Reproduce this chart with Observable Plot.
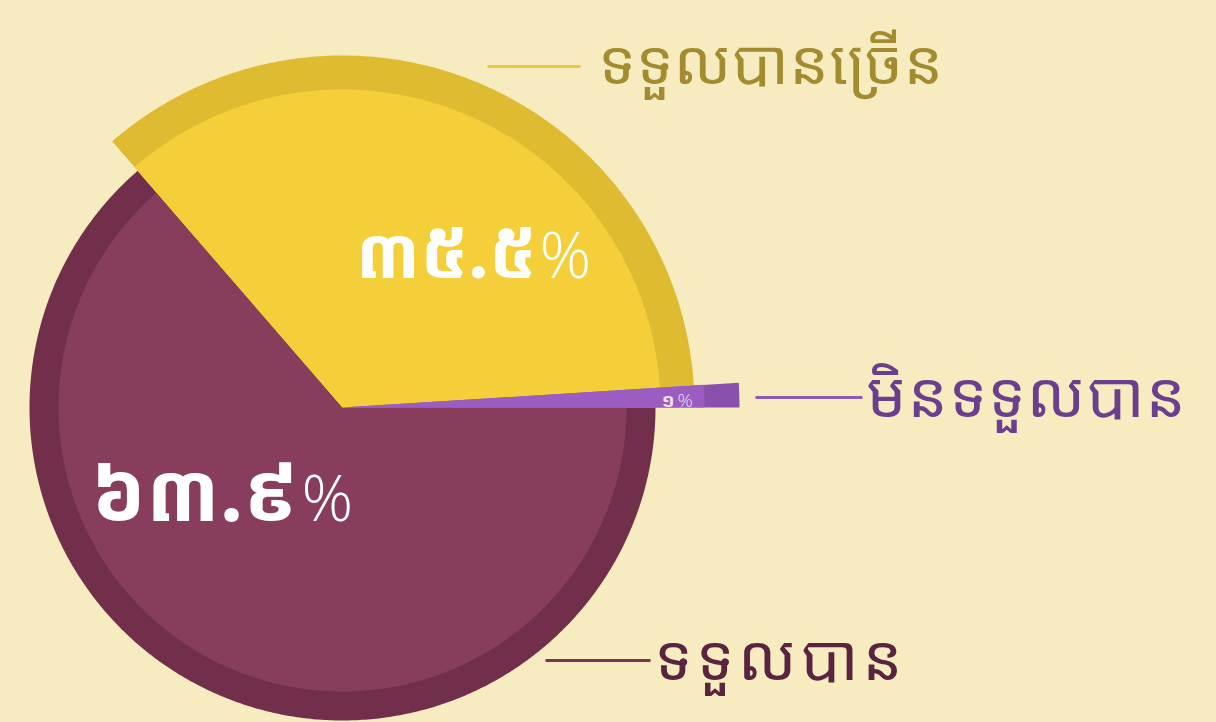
<!DOCTYPE html>
<html>
<head>
<meta charset="utf-8">
<script src="https://cdn.jsdelivr.net/npm/d3@7"></script>
<script src="https://cdn.jsdelivr.net/npm/@observablehq/plot@0.6"></script>
<style>
  html, body { margin: 0; padding: 0; background: #f7ecbf; }
  #chart svg { display: block; }
</style>
</head>
<body>
<div id="chart"></div>
<script>
// ---- data ----
const categories = ["មិនទទួលបាន", "ទទួលបានច្រើន", "ទទួលបាន"];
const values = [1, 35.5, 63.9];
const bandColors = ["#8a50ae", "#dfbb31", "#722f4b"];
const innerColors = ["#9b5dc2", "#f4cf3a", "#893d5c"];
const labelColors = ["#6a3f8e", "#a38c2f", "#5a2441"];
const lineColors = ["#8a5cb2", "#ecc93f", "#7a3551"];

// ---- helpers ----
const khmerDigits = "០១២៣៤៥៦៧៨៩";
const toKhmer = v => String(v).replace(/[0-9]/g, d => khmerDigits[+d]);

const W = 1216, H = 722;
const cx = 342, cy = 407;
const outerR = [397, 352, 313];
const innerR = [362, 318, 284];

const total = d3.sum(values);
let acc = 0;
const slices = values.map((v, i) => {
  const a0 = acc / total * 360;
  acc += v;
  const a1 = acc / total * 360;
  return {i, a0, a1};
});

function wedge(a0, a1, r) {
  const pts = [[cx, cy]];
  const n = Math.max(2, Math.ceil((a1 - a0) / 0.5));
  for (let k = 0; k <= n; k++) {
    const a = (a0 + (a1 - a0) * k / n) * Math.PI / 180;
    pts.push([cx + r * Math.cos(a), cy - r * Math.sin(a)]);
  }
  pts.push([cx, cy]);
  return pts;
}

const marks = [];
// draw larger slices first so the small one is on top
[2, 1, 0].forEach(i => {
  const s = slices[i];
  marks.push(Plot.line(wedge(s.a0, s.a1, outerR[i]), {x: d => d[0], y: d => d[1], fill: bandColors[i], stroke: null, curve: "linear"}));
  marks.push(Plot.line(wedge(s.a0, s.a1, innerR[i]), {x: d => d[0], y: d => d[1], fill: innerColors[i], stroke: null, curve: "linear"}));
});

// leader lines and category labels
const leaders = [
  {x1: 755, x2: 862, y: 397, tx: 866, ty: 416, size: 63, ls: 1.2},
  {x1: 487, x2: 580, y: 66, tx: 598, ty: 83, size: 62, ls: 0.5},
  {x1: 545, x2: 650, y: 660, tx: 654, ty: 679, size: 63, ls: 4}
];
const labelFont = "'Noto Sans Khmer','Noto Serif Khmer','Khmer OS','Khmer OS Battambang',sans-serif";
leaders.forEach((l, i) => {
  marks.push(Plot.link([l], {x1: "x1", x2: "x2", y1: "y", y2: "y", stroke: lineColors[i], strokeWidth: 3}));
  marks.push(Plot.text([categories[i]], {x: l.tx, y: l.ty, text: d => d, textAnchor: "start", lineAnchor: "bottom",
    fill: labelColors[i], fontSize: l.size, fontFamily: labelFont}));
});

// value labels
const valuePos = [
  {x: 674, y: 406, size: 19, pctSize: 19, fill: "#efe0f5"},
  {x: 536, y: 277, size: 72, pctSize: 64, fill: "#ffffff"},
  {x: 298, y: 520, size: 82, pctSize: 64, fill: "#ffffff"}
];
valuePos.forEach((p, i) => {
  const num = toKhmer(values[i]);
  marks.push(Plot.text([num], {x: p.x, y: p.y, text: d => d, textAnchor: "end", lineAnchor: "bottom",
    fill: p.fill, fontSize: p.size, fontWeight: "bold", fontFamily: "'Noto Sans Khmer','Khmer OS',sans-serif"}));
  marks.push(Plot.text(["%"], {x: p.x + 3, y: p.y, text: d => d, textAnchor: "start", lineAnchor: "bottom",
    fill: p.fill, fontSize: p.pctSize, fontWeight: 300, fontFamily: "'Open Sans','Noto Sans',sans-serif"}));
});

const chart = Plot.plot({
  width: W,
  height: H,
  margin: 0,
  x: {domain: [0, W], range: [0, W], axis: null},
  y: {domain: [0, H], range: [0, H], axis: null},
  style: {background: "#f7ecbf"},
  marks
});
// letter spacing for category labels
chart.querySelectorAll("text").forEach(t => {
  const k = categories.indexOf(t.textContent);
  if (k >= 0) t.setAttribute("letter-spacing", leaders[k].ls);
});
document.getElementById("chart").appendChild(chart);
</script>
</body>
</html>
